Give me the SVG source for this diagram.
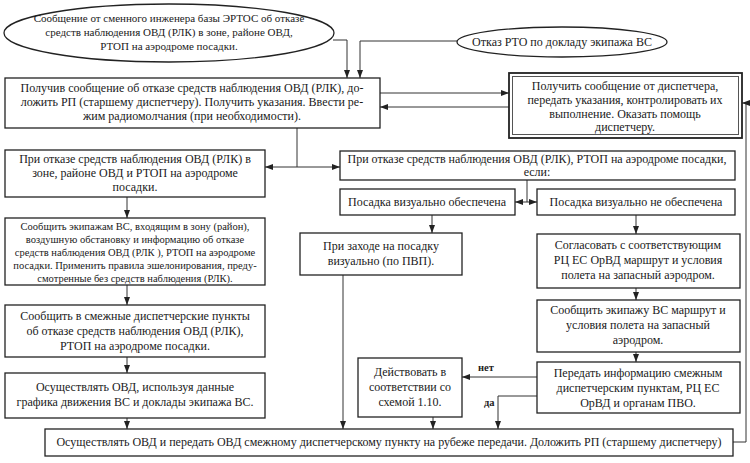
<svg xmlns="http://www.w3.org/2000/svg" width="750" height="463" viewBox="0 0 750 463">
<defs>
<marker id="dgarr" viewBox="0 0 8 6" refX="8" refY="3" markerWidth="8" markerHeight="6" markerUnits="userSpaceOnUse" orient="auto">
<path d="M0,0 L8,3 L0,6 z" fill="#222"/>
</marker>
</defs>
<rect width="750" height="463" fill="#fff"/>
<g id="connectors" fill="none" stroke="#333" stroke-width="1">
<path d="M333,40 H347 V78" marker-end="url(#dgarr)"/>
<path d="M457,41 H360 V78" marker-end="url(#dgarr)"/>
<path d="M380,93 H509" marker-end="url(#dgarr)"/>
<path d="M509,107 H380" marker-end="url(#dgarr)"/>
<path d="M297,128 V167 H265" marker-end="url(#dgarr)"/>
<path d="M297,167 H340" marker-end="url(#dgarr)"/>
<path d="M527,180 V202 H515" marker-end="url(#dgarr)"/>
<path d="M527,202 H537" marker-end="url(#dgarr)"/>
<path d="M127,197 V218" marker-end="url(#dgarr)"/>
<path d="M432,215 V233" marker-end="url(#dgarr)"/>
<path d="M636,215 V234" marker-end="url(#dgarr)"/>
<path d="M127,285 V305" marker-end="url(#dgarr)"/>
<path d="M636,288 V300" marker-end="url(#dgarr)"/>
<path d="M343,275 V429" marker-end="url(#dgarr)"/>
<path d="M127,357 V373" marker-end="url(#dgarr)"/>
<path d="M636,352 V362" marker-end="url(#dgarr)"/>
<path d="M127,418 V429" marker-end="url(#dgarr)"/>
<path d="M537,377 H462" marker-end="url(#dgarr)"/>
<path d="M537,396 H498 V429" marker-end="url(#dgarr)"/>
<path d="M433,417 V429" marker-end="url(#dgarr)"/>
<path d="M733,442 H746 V103 H742" marker-end="url(#dgarr)"/>
</g>
<g id="labels" fill="#222" stroke="none" font-size="10.5" font-weight="bold">
<text font-family="Liberation Serif, serif" x="478" y="371">нет</text>
<text font-family="Liberation Serif, serif" x="484" y="406">да</text>
</g>
<g fill="#fff" stroke="#222" stroke-width="1.3">
<g id="n1">
<ellipse cx="169" cy="33" rx="165" ry="29"/>
<g fill="#1a1a1a" stroke="none" text-anchor="middle" font-size="11">
<text font-family="Liberation Serif, serif" x="169" y="22">Сообщение от сменного инженера базы ЭРТОС об отказе</text>
<text font-family="Liberation Serif, serif" x="169" y="36">средств наблюдения ОВД (РЛК) в зоне, районе ОВД,</text>
<text font-family="Liberation Serif, serif" x="169" y="50">РТОП на аэродроме посадки.</text>
</g>
</g>
<g id="n2">
<ellipse cx="562" cy="42" rx="105" ry="15"/>
<text fill="#1a1a1a" stroke="none" text-anchor="middle" font-size="12" font-family="Liberation Serif, serif" x="562" y="46">Отказ РТО по докладу экипажа ВС</text>
</g>
<g id="nA">
<rect x="5" y="78" width="375" height="50"/>
<g fill="#1a1a1a" stroke="none" text-anchor="middle" font-size="12">
<text font-family="Liberation Serif, serif" x="192" y="92">Получив сообщение об отказе  средств наблюдения ОВД (РЛК), до-</text>
<text font-family="Liberation Serif, serif" x="192" y="106">ложить РП (старшему диспетчеру). Получить указания. Ввести ре-</text>
<text font-family="Liberation Serif, serif" x="192" y="120">жим радиомолчания (при необходимости).</text>
</g>
</g>
<g id="nB">
<rect x="509" y="73" width="233" height="65" stroke-width="1.8"/>
<rect x="512.5" y="76.5" width="226" height="58" fill="none" stroke="#555" stroke-width="1"/>
<g fill="#1a1a1a" stroke="none" text-anchor="middle" font-size="12">
<text font-family="Liberation Serif, serif" x="625" y="90">Получить сообщение от диспетчера,</text>
<text font-family="Liberation Serif, serif" x="625" y="104">передать указания, контролировать их</text>
<text font-family="Liberation Serif, serif" x="625" y="118">выполнение. Оказать помощь</text>
<text font-family="Liberation Serif, serif" x="625" y="131">диспетчеру.</text>
</g>
</g>
<g id="nC">
<rect x="5" y="150" width="260" height="47"/>
<g fill="#1a1a1a" stroke="none" text-anchor="middle" font-size="12">
<text font-family="Liberation Serif, serif" x="135" y="163">При отказе средств наблюдения ОВД (РЛК) в</text>
<text font-family="Liberation Serif, serif" x="135" y="177">зоне, районе ОВД и РТОП на аэродроме</text>
<text font-family="Liberation Serif, serif" x="135" y="191">посадки.</text>
</g>
</g>
<g id="nD">
<rect x="340" y="151" width="395" height="29"/>
<g fill="#1a1a1a" stroke="none" text-anchor="middle" font-size="12">
<text font-family="Liberation Serif, serif" x="537" y="163">При отказе средств наблюдения ОВД (РЛК), РТОП на аэродроме посадки,</text>
<text font-family="Liberation Serif, serif" x="537" y="176">если:</text>
</g>
</g>
<g id="nE">
<rect x="340" y="189" width="175" height="26"/>
<text fill="#1a1a1a" stroke="none" text-anchor="middle" font-size="12" font-family="Liberation Serif, serif" x="427" y="206">Посадка визуально обеспечена</text>
</g>
<g id="nF">
<rect x="537" y="189" width="198" height="26"/>
<text fill="#1a1a1a" stroke="none" text-anchor="middle" font-size="12" font-family="Liberation Serif, serif" x="636" y="206">Посадка визуально  не обеспечена</text>
</g>
<g id="nG">
<rect x="5" y="218" width="260" height="67"/>
<g fill="#1a1a1a" stroke="none" text-anchor="middle" font-size="10.5">
<text font-family="Liberation Serif, serif" x="135" y="230">Сообщить экипажам ВС, входящим в зону (район),</text>
<text font-family="Liberation Serif, serif" x="135" y="243">воздушную обстановку и  информацию об отказе</text>
<text font-family="Liberation Serif, serif" x="135" y="256">средств наблюдения ОВД (РЛК ), РТОП на аэродроме</text>
<text font-family="Liberation Serif, serif" x="135" y="269">посадки. Применить правила эшелонирования, преду-</text>
<text font-family="Liberation Serif, serif" x="135" y="282">смотренные без средств наблюдения (РЛК).</text>
</g>
</g>
<g id="nH">
<rect x="300" y="233" width="162" height="42"/>
<g fill="#1a1a1a" stroke="none" text-anchor="middle" font-size="12">
<text font-family="Liberation Serif, serif" x="381" y="250">При заходе на посадку</text>
<text font-family="Liberation Serif, serif" x="381" y="265">визуально (по ПВП).</text>
</g>
</g>
<g id="nI">
<rect x="537" y="234" width="203" height="54"/>
<g fill="#1a1a1a" stroke="none" text-anchor="middle" font-size="12">
<text font-family="Liberation Serif, serif" x="638" y="249">Согласовать с соответствующим</text>
<text font-family="Liberation Serif, serif" x="638" y="264">РЦ ЕС ОрВД маршрут и условия</text>
<text font-family="Liberation Serif, serif" x="638" y="279">полета на запасный аэродром.</text>
</g>
</g>
<g id="nJ">
<rect x="5" y="305" width="260" height="52"/>
<g fill="#1a1a1a" stroke="none" text-anchor="middle" font-size="12">
<text font-family="Liberation Serif, serif" x="135" y="320">Сообщить в смежные диспетчерские пункты</text>
<text font-family="Liberation Serif, serif" x="135" y="335">об отказе средств наблюдения ОВД (РЛК),</text>
<text font-family="Liberation Serif, serif" x="135" y="350">РТОП на аэродроме посадки.</text>
</g>
</g>
<g id="nK">
<rect x="537" y="300" width="203" height="52"/>
<g fill="#1a1a1a" stroke="none" text-anchor="middle" font-size="12">
<text font-family="Liberation Serif, serif" x="638" y="314">Сообщить экипажу ВС маршрут и</text>
<text font-family="Liberation Serif, serif" x="638" y="329">условия полета на запасный</text>
<text font-family="Liberation Serif, serif" x="638" y="344">аэродром.</text>
</g>
</g>
<g id="nL">
<rect x="5" y="373" width="260" height="45"/>
<g fill="#1a1a1a" stroke="none" text-anchor="middle" font-size="12">
<text font-family="Liberation Serif, serif" x="135" y="391">Осуществлять ОВД, используя данные</text>
<text font-family="Liberation Serif, serif" x="135" y="406">графика движения ВС и доклады экипажа ВС.</text>
</g>
</g>
<g id="nM">
<rect x="537" y="362" width="203" height="51"/>
<g fill="#1a1a1a" stroke="none" text-anchor="middle" font-size="12">
<text font-family="Liberation Serif, serif" x="638" y="377">Передать информацию смежным</text>
<text font-family="Liberation Serif, serif" x="638" y="392">диспетчерским пунктам, РЦ ЕС</text>
<text font-family="Liberation Serif, serif" x="638" y="407">ОрВД и органам ПВО.</text>
</g>
</g>
<g id="nN">
<rect x="358" y="358" width="104" height="59"/>
<g fill="#1a1a1a" stroke="none" text-anchor="middle" font-size="12">
<text font-family="Liberation Serif, serif" x="410" y="376">Действовать в</text>
<text font-family="Liberation Serif, serif" x="410" y="391">соответствии со</text>
<text font-family="Liberation Serif, serif" x="410" y="406">схемой 1.10.</text>
</g>
</g>
<g id="nO">
<rect x="45" y="429" width="688" height="27"/>
<text fill="#1a1a1a" stroke="none" text-anchor="middle" font-size="12" font-family="Liberation Serif, serif" x="389" y="446">Осуществлять ОВД и передать ОВД смежному диспетчерскому пункту на рубеже передачи. Доложить РП (старшему диспетчеру)</text>
</g>
</g>
</svg>
